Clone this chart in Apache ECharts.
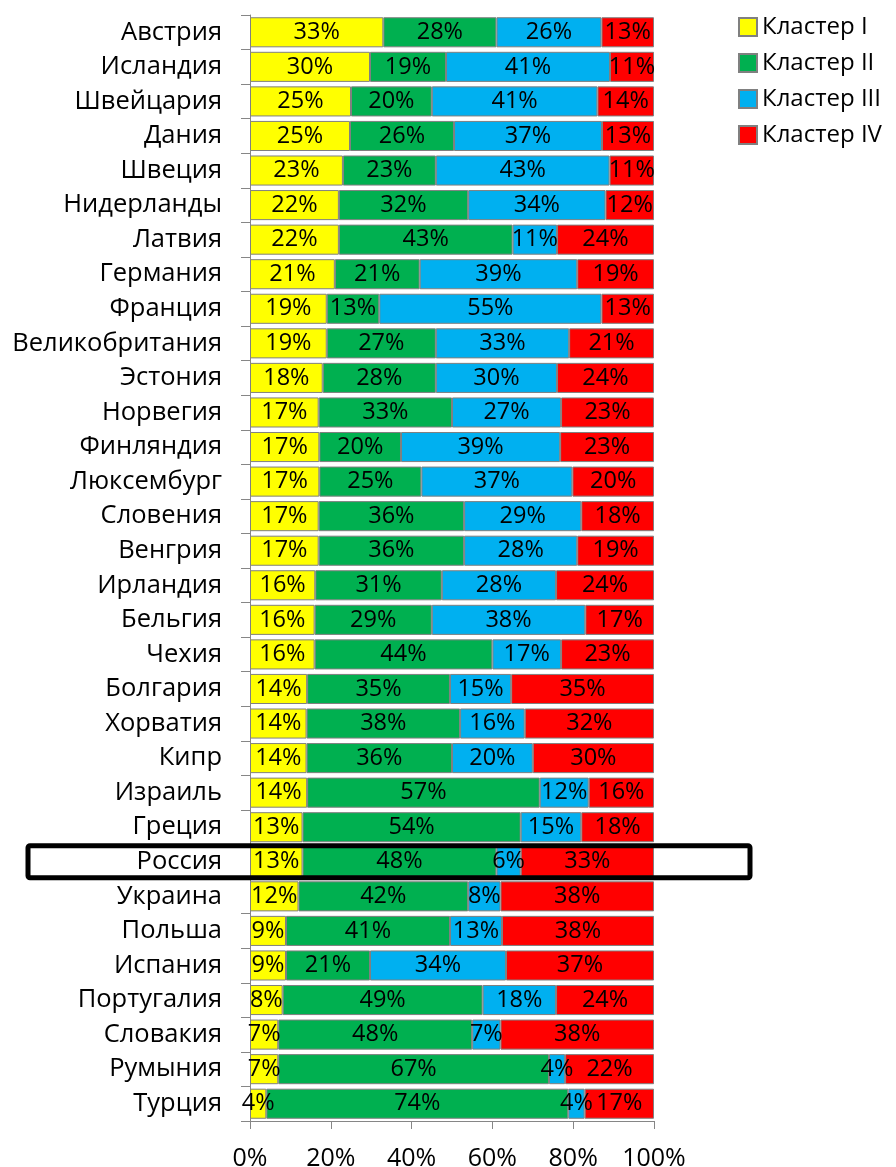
<!DOCTYPE html>
<html>
<head>
<meta charset="utf-8">
<script src="https://cdn.jsdelivr.net/npm/echarts@6/dist/echarts.min.js"></script>
<style>html,body{margin:0;padding:0;background:#fff}#c{width:896px;height:1167px}</style>
</head>
<body>
<div id="c"></div>
<script>
const countries = ["Австрия","Исландия","Швейцария","Дания","Швеция","Нидерланды","Латвия","Германия","Франция","Великобритания","Эстония","Норвегия","Финляндия","Люксембург","Словения","Венгрия","Ирландия","Бельгия","Чехия","Болгария","Хорватия","Кипр","Израиль","Греция","Россия","Украина","Польша","Испания","Португалия","Словакия","Румыния","Турция"];
const cluster1 = [33,30,25,25,23,22,22,21,19,19,18,17,17,17,17,17,16,16,16,14,14,14,14,13,13,12,9,9,8,7,7,4];
const cluster2 = [28,19,20,26,23,32,43,21,13,27,28,33,20,25,36,36,31,29,44,35,38,36,57,54,48,42,41,21,49,48,67,74];
const cluster3 = [26,41,41,37,43,34,11,39,55,33,30,27,39,37,29,28,28,38,17,15,16,20,12,15,6,8,13,34,18,7,4,4];
const cluster4 = [13,11,14,13,11,12,24,19,13,21,24,23,23,20,18,19,24,17,23,35,32,30,16,18,33,38,38,37,24,38,22,17];
const seriesNames = ["Кластер I","Кластер II","Кластер III","Кластер IV"];
const seriesColors = ["#FFFF00","#00B050","#00B0F0","#FF0000"];
const xTicks = [0,20,40,60,80,100];
const highlighted = "Россия";

const all = [cluster1, cluster2, cluster3, cluster4];
const totals = countries.map((_, i) => all.reduce((s, a) => s + a[i], 0));
const FONT = "Open Sans";
const FS = 23.5;

const chart = echarts.init(document.getElementById('c'), null, {renderer: 'canvas'});
const option = {
  animation: false,
  textStyle: {fontFamily: FONT},
  grid: {left: 250, right: 242, top: 15, bottom: 46, containLabel: false, outerBoundsMode: 'none'},
  legend: {
    orient: 'vertical', left: 733, top: 10,
    itemWidth: 18, itemHeight: 18, itemGap: 12,
    icon: 'rect',
    textStyle: {fontFamily: FONT, fontSize: 24, color: '#000'},
    data: seriesNames
  },
  xAxis: {
    type: 'value', min: 0, max: 100, interval: 20,
    axisLine: {show: true, lineStyle: {color: '#868686', width: 1}},
    axisTick: {show: true, length: 8, lineStyle: {color: '#868686'}},
    splitLine: {show: false},
    axisLabel: {formatter: v => xTicks.includes(v) ? v + '%' : '', fontFamily: FONT, fontSize: 25, color: '#000', margin: 25}
  },
  yAxis: {
    type: 'category', inverse: true, data: countries,
    axisLine: {show: true, lineStyle: {color: '#868686', width: 1}},
    axisTick: {show: true, length: 9, interval: 0, lineStyle: {color: '#868686'}},
    axisLabel: {interval: 0, fontFamily: FONT, fontSize: 25.5, color: '#000', margin: 28}
  },
  series: all.map((arr, k) => ({
    name: seriesNames[k],
    type: 'bar',
    stack: 'total',
    barCategoryGap: '13%',
    data: arr.map((v, i) => ({value: v / totals[i] * 100, raw: v})),
    itemStyle: {color: seriesColors[k], borderColor: '#808080', borderWidth: 1},
    label: {
      show: true, position: 'inside',
      formatter: p => p.data.raw + '%',
      fontFamily: FONT, fontSize: FS, color: '#000'
    }
  }))
};
chart.setOption(option);

const cy = chart.convertToPixel({yAxisIndex: 0}, highlighted);
const rowH = chart.convertToPixel({yAxisIndex: 0}, countries[1]) - chart.convertToPixel({yAxisIndex: 0}, countries[0]);
const h = rowH * 0.93;
chart.setOption({
  graphic: [{
    type: 'rect', z: 100,
    shape: {x: 28, y: cy - h / 2, width: 722, height: h, r: 2},
    style: {fill: 'none', stroke: '#000', lineWidth: 5}
  }]
});
</script>
</body>
</html>
